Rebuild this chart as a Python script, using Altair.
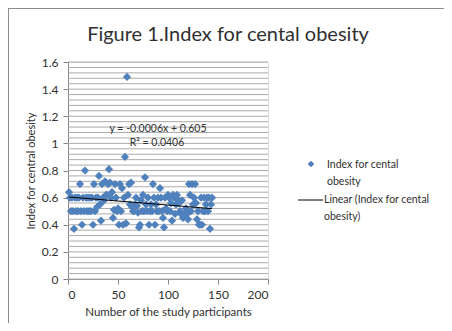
import altair as alt
import pandas as pd

participants = list(range(1, 145))
index_values = [
    0.64, 0.60, 0.50, 0.60, 0.50, 0.37, 0.60, 0.50, 0.60, 0.50,
    0.60, 0.70, 0.50, 0.40, 0.60, 0.50, 0.80, 0.60, 0.50, 0.60,
    0.50, 0.60, 0.50, 0.60, 0.40, 0.70, 0.50, 0.60, 0.53, 0.60,
    0.76, 0.55, 0.43, 0.70, 0.60, 0.58, 0.72, 0.62, 0.62, 0.70,
    0.81, 0.71, 0.60, 0.64, 0.45, 0.51, 0.70, 0.60, 0.50, 0.52,
    0.40, 0.70, 0.50, 0.67, 0.40, 0.60, 0.90, 0.41, 1.49, 0.62,
    0.70, 0.55, 0.71, 0.53, 0.50, 0.50, 0.55, 0.60, 0.54, 0.49,
    0.38, 0.40, 0.58, 0.50, 0.62, 0.50, 0.75, 0.55, 0.50, 0.60,
    0.40, 0.50, 0.55, 0.50, 0.70, 0.60, 0.40, 0.55, 0.50, 0.60,
    0.50, 0.67, 0.60, 0.50, 0.45, 0.38, 0.60, 0.52, 0.50, 0.62,
    0.60, 0.50, 0.56, 0.43, 0.62, 0.60, 0.48, 0.55, 0.62, 0.58,
    0.56, 0.50, 0.48, 0.58, 0.45, 0.48, 0.46, 0.52, 0.48, 0.44,
    0.70, 0.62, 0.50, 0.70, 0.55, 0.60, 0.70, 0.56, 0.44, 0.50,
    0.40, 0.40, 0.60, 0.40, 0.50, 0.60, 0.50, 0.55, 0.60, 0.50,
    0.60, 0.37, 0.55, 0.60,
]
trend_slope = -0.0006
trend_intercept = 0.605
trend_x = [1, 144]
y_ticks = [0, 0.2, 0.4, 0.6, 0.8, 1.0, 1.2, 1.4, 1.6]
y_grid = [0.04 * i for i in range(41)]
x_ticks = [0, 50, 100, 150, 200]

FONT = "Lato"
TXT = "#303030"
BLUE = "#4f81bd"

df = pd.DataFrame({"x": participants, "y": index_values})
grid_df = pd.DataFrame({"g": [round(v, 2) for v in y_grid]})
trend_df = pd.DataFrame({"x": trend_x})

xs = alt.Scale(domain=[0, 200], nice=False)
ys = alt.Scale(domain=[0, 1.6], nice=False)

y_axis = alt.Axis(values=y_ticks, grid=False, tickSize=5, labelPadding=5,
                  titlePadding=5, domainColor="#868686", tickColor="#868686",
                  labelExpr="format(datum.value, '~g')",
                  labelFont=FONT, labelFontSize=12, labelColor=TXT,
                  titleFont=FONT, titleFontSize=11, titleFontWeight="normal",
                  titleColor=TXT)
x_axis = alt.Axis(values=x_ticks, grid=False, tickSize=5, labelPadding=5,
                  titlePadding=6, domainColor="#868686", tickColor="#868686",
                  labelFont=FONT, labelFontSize=12, labelColor=TXT,
                  titleFont=FONT, titleFontSize=11.5, titleFontWeight="normal",
                  titleColor=TXT)
Y_TITLE = "Index for central obesity"
X_TITLE = "Number  of the study participants"

grid = alt.Chart(grid_df).mark_rule(color="#ababab", strokeWidth=1).encode(
    y=alt.Y("g:Q", scale=ys, axis=y_axis, title=Y_TITLE)
)

points = alt.Chart(df).mark_point(
    shape="diamond", filled=True, size=68, color=BLUE, opacity=1
).encode(
    x=alt.X("x:Q", scale=xs, title=X_TITLE, axis=x_axis),
    y=alt.Y("y:Q", scale=ys, title=Y_TITLE, axis=y_axis),
)

trend = alt.Chart(trend_df).transform_calculate(
    ty=f"{trend_slope} * datum.x + {trend_intercept}"
).mark_line(color="#000000", strokeWidth=1).encode(
    x=alt.X("x:Q", scale=xs, axis=x_axis, title=X_TITLE),
    y=alt.Y("ty:Q", scale=ys, axis=y_axis, title=Y_TITLE)
)

def label(text, x, y, size=10, align="center", **kw):
    return alt.Chart(pd.DataFrame({"t": [text]})).mark_text(
        font=FONT, fontSize=size, color=TXT, align=align, baseline="middle",
        lineBreak="\n", **kw
    ).encode(text="t:N", x=alt.value(x), y=alt.value(y))

eq1 = label("y = -0.0006x + 0.605", 90, 67, size=10.5)
eq2 = label("R² = 0.0406", 89, 81, size=10.5)
title = label("Figure 1.Index for cental obesity", 160, -27, size=20)
leg_sym = alt.Chart(pd.DataFrame({"a": [0]})).mark_point(
    shape="diamond", filled=True, size=45, color=BLUE, opacity=1
).encode(x=alt.value(243), y=alt.value(102))
leg_t1 = label("Index for cental\nobesity", 259, 103, size=10.5, align="left", lineHeight=16.5)
leg_line = alt.Chart(pd.DataFrame({"a": [0]})).mark_rule(color="#000000", strokeWidth=1).encode(
    x=alt.value(230), x2=alt.value(255), y=alt.value(138)
)
leg_t2 = label("Linear (Index for cental\nobesity)", 256, 138, size=10.5, align="left", lineHeight=16.5)
frame_top = alt.Chart(pd.DataFrame({"a": [0]})).mark_rule(color="#8c8c8c", strokeWidth=1).encode(
    x=alt.value(-60), x2=alt.value(376), y=alt.value(-53.5)
)
frame_left = alt.Chart(pd.DataFrame({"a": [0]})).mark_rule(color="#8c8c8c", strokeWidth=1).encode(
    x=alt.value(-59.5), y=alt.value(-54), y2=alt.value(261)
)

chart = alt.layer(
    frame_top, frame_left, grid, points, trend, eq1, eq2, title,
    leg_sym, leg_t1, leg_line, leg_t2
).properties(
    width=200, height=217,
    padding={"left": 60, "top": 54, "right": 176, "bottom": 44},
    autosize=alt.AutoSizeParams(type="none"),
).configure_view(stroke=None).configure(background="white")

chart.save("out.html", embed_options={"renderer": "svg", "actions": False})
